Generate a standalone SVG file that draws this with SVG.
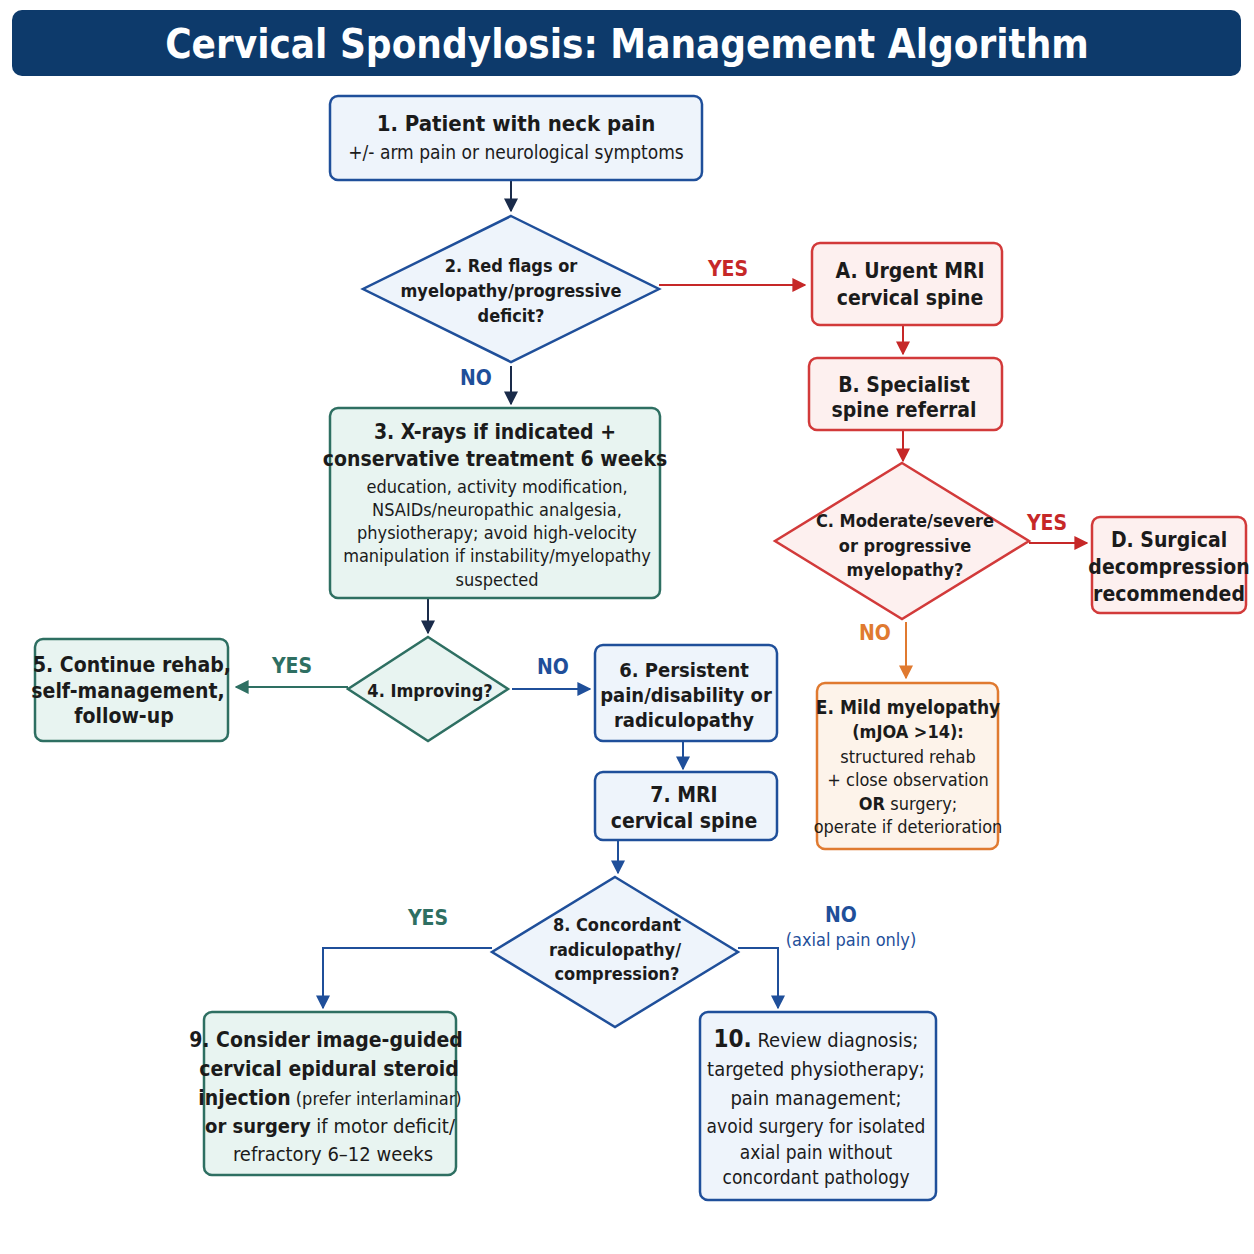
<svg xmlns="http://www.w3.org/2000/svg" width="1254" height="1254" viewBox="0 0 1254 1254">
<style>
text{font-family:"Liberation Sans Narrow","DejaVu Sans Condensed","Liberation Sans",sans-serif;text-anchor:middle;fill:#1b1b1b}
.b{font-weight:bold}
.blue rect,.blue polygon{fill:#eef4fb;stroke:#1f4f9a;stroke-width:2.5}
.teal rect,.teal polygon{fill:#e8f4f1;stroke:#2e6f62;stroke-width:2.5}
.red rect,.red polygon{fill:#fdf0ef;stroke:#d23a3a;stroke-width:2.5}
.org rect{fill:#fdf3ea;stroke:#e07a30;stroke-width:2.5}
.t{font-size:21px;font-weight:bold}
.s{font-size:18px}
.c path{fill:none;stroke-width:2}
.lbl{font-size:21px;font-weight:bold}
</style>
<defs>
<marker id="ad" viewBox="0 0 10 10" refX="9" refY="5" markerWidth="7" markerHeight="7" orient="auto"><path d="M0,0L10,5L0,10z" fill="#1a2b4a"/></marker>
<marker id="ar" viewBox="0 0 10 10" refX="9" refY="5" markerWidth="7" markerHeight="7" orient="auto"><path d="M0,0L10,5L0,10z" fill="#c62828"/></marker>
<marker id="ao" viewBox="0 0 10 10" refX="9" refY="5" markerWidth="7" markerHeight="7" orient="auto"><path d="M0,0L10,5L0,10z" fill="#e07a30"/></marker>
<marker id="at" viewBox="0 0 10 10" refX="9" refY="5" markerWidth="7" markerHeight="7" orient="auto"><path d="M0,0L10,5L0,10z" fill="#2e6f62"/></marker>
<marker id="ab" viewBox="0 0 10 10" refX="9" refY="5" markerWidth="7" markerHeight="7" orient="auto"><path d="M0,0L10,5L0,10z" fill="#1f4f9a"/></marker>
</defs>
<rect width="1254" height="1254" fill="#fff"/>
<g id="title"><rect x="12" y="10" width="1229" height="66" rx="10" fill="#0d3a6b"/><text x="627" y="58" style="font-size:40px;font-weight:bold;fill:#fff">Cervical Spondylosis: Management Algorithm</text></g>
<g class="c" id="connectors">
<path d="M511,180V211" stroke="#1a2b4a" marker-end="url(#ad)"/>
<path d="M659,285H805" stroke="#c62828" marker-end="url(#ar)"/>
<text x="728" y="276" class="lbl" style="fill:#c62828">YES</text>
<path d="M903,325V354" stroke="#c62828" marker-end="url(#ar)"/>
<path d="M903,430V461" stroke="#c62828" marker-end="url(#ar)"/>
<path d="M1029,543H1087" stroke="#c62828" marker-end="url(#ar)"/>
<text x="1047" y="530" class="lbl" style="fill:#c62828">YES</text>
<path d="M906,622V678" stroke="#e07a30" marker-end="url(#ao)"/>
<text x="875" y="640" class="lbl" style="fill:#e07a30">NO</text>
<path d="M511,366V404" stroke="#1a2b4a" marker-end="url(#ad)"/>
<text x="476" y="385" class="lbl" style="fill:#1f4f9a">NO</text>
<path d="M428,598V633" stroke="#1a2b4a" marker-end="url(#ad)"/>
<path d="M348,687H236" stroke="#2e6f62" marker-end="url(#at)"/>
<text x="292" y="673" class="lbl" style="fill:#2e6f62">YES</text>
<path d="M512,689H590" stroke="#1f4f9a" marker-end="url(#ab)"/>
<text x="553" y="674" class="lbl" style="fill:#1f4f9a">NO</text>
<path d="M683,741V769" stroke="#1f4f9a" marker-end="url(#ab)"/>
<path d="M618,840V873" stroke="#1f4f9a" marker-end="url(#ab)"/>
<path d="M492,948H323V1008" stroke="#1f4f9a" marker-end="url(#ab)"/>
<text x="428" y="925" class="lbl" style="fill:#2e6f62">YES</text>
<path d="M738,948H778V1008" stroke="#1f4f9a" marker-end="url(#ab)"/>
<text x="841" y="922" class="lbl" style="fill:#1f4f9a">NO</text>
<text x="851" y="946" style="font-size:18px;fill:#1f4f9a">(axial pain only)</text>
</g>
<g id="n1" class="blue"><rect x="330" y="96" width="372" height="84" rx="8"/><text x="516" y="131" class="t" style="font-size:22px">1. Patient with neck pain</text><text x="516" y="159" class="s" style="font-size:19px">+/- arm pain or neurological symptoms</text></g>
<g id="n2" class="blue"><polygon points="511,216 659,289 511,362 363,289"/><text x="511" y="272" class="s b">2. Red flags or</text><text x="511" y="297" class="s b">myelopathy/progressive</text><text x="511" y="322" class="s b">deficit?</text></g>
<g id="nA" class="red"><rect x="812" y="243" width="190" height="82" rx="8"/><text x="910" y="278" class="t">A. Urgent MRI</text><text x="910" y="305" class="t">cervical spine</text></g>
<g id="nB" class="red"><rect x="809" y="358" width="193" height="72" rx="8"/><text x="904" y="392" class="t">B. Specialist</text><text x="904" y="417" class="t">spine referral</text></g>
<g id="nC" class="red"><polygon points="902,463 1029,541 902,619 775,541"/><text x="905" y="527" class="s b">C. Moderate/severe</text><text x="905" y="552" class="s b">or progressive</text><text x="905" y="576" class="s b">myelopathy?</text></g>
<g id="nD" class="red"><rect x="1092" y="517" width="154" height="96" rx="8"/><text x="1169" y="547" class="t">D. Surgical</text><text x="1169" y="574" class="t">decompression</text><text x="1169" y="601" class="t">recommended</text></g>
<g id="nE" class="org"><rect x="817" y="683" width="181" height="166" rx="8"/><text x="908" y="714" class="s b" style="font-size:19px">E. Mild myelopathy</text><text x="908" y="738" class="s b">(mJOA &gt;14):</text><text x="908" y="763" class="s">structured rehab</text><text x="908" y="786" class="s">+ close observation</text><text x="908" y="810" class="s"><tspan class="b">OR</tspan> surgery;</text><text x="908" y="833" class="s">operate if deterioration</text></g>
<g id="n3" class="teal"><rect x="330" y="408" width="330" height="190" rx="8"/><text x="495" y="439" class="t">3. X-rays if indicated +</text><text x="495" y="466" class="t">conservative treatment 6 weeks</text><text x="497" y="493" class="s">education, activity modification,</text><text x="497" y="516" class="s">NSAIDs/neuropathic analgesia,</text><text x="497" y="539" class="s">physiotherapy; avoid high-velocity</text><text x="497" y="562" class="s">manipulation if instability/myelopathy</text><text x="497" y="586" class="s">suspected</text></g>
<g id="n4" class="teal"><polygon points="428,637 508,689 428,741 348,689"/><text x="430" y="697" class="s b">4. Improving?</text></g>
<g id="n5" class="teal"><rect x="35" y="639" width="193" height="102" rx="8"/><text x="132" y="672" class="t">5. Continue rehab,</text><text x="128" y="698" class="t">self-management,</text><text x="124" y="723" class="t">follow-up</text></g>
<g id="n6" class="blue"><rect x="595" y="645" width="182" height="96" rx="8"/><text x="684" y="677" class="t" style="font-size:20px">6. Persistent</text><text x="686" y="702" class="t" style="font-size:20px">pain/disability or</text><text x="684" y="727" class="t" style="font-size:20px">radiculopathy</text></g>
<g id="n7" class="blue"><rect x="595" y="772" width="182" height="68" rx="8"/><text x="684" y="802" class="t">7. MRI</text><text x="684" y="828" class="t">cervical spine</text></g>
<g id="n8" class="blue"><polygon points="615,877 738,952 615,1027 492,952"/><text x="617" y="931" class="s b">8. Concordant</text><text x="615" y="956" class="s b">radiculopathy/</text><text x="617" y="980" class="s b">compression?</text></g>
<g id="n9" class="teal"><rect x="204" y="1012" width="252" height="163" rx="8"/><text x="326" y="1047" class="t">9. Consider image-guided</text><text x="329" y="1076" class="t">cervical epidural steroid</text><text x="330" y="1105" class="s"><tspan class="b" style="font-size:21px">injection</tspan> (prefer interlaminar)</text><text x="330" y="1133" class="s" style="font-size:20px"><tspan class="b">or surgery</tspan> if motor deficit/</text><text x="333" y="1161" class="s" style="font-size:20px">refractory 6–12 weeks</text></g>
<g id="n10" class="blue"><rect x="700" y="1012" width="236" height="188" rx="8"/><text x="816" y="1047" class="s" style="font-size:20px"><tspan class="b" style="font-size:24px">10.</tspan> Review diagnosis;</text><text x="816" y="1076" class="s" style="font-size:20px">targeted physiotherapy;</text><text x="816" y="1105" class="s" style="font-size:20px">pain management;</text><text x="816" y="1133" class="s" style="font-size:19px">avoid surgery for isolated</text><text x="816" y="1159" class="s" style="font-size:19px">axial pain without</text><text x="816" y="1184" class="s" style="font-size:19px">concordant pathology</text></g>
</svg>
